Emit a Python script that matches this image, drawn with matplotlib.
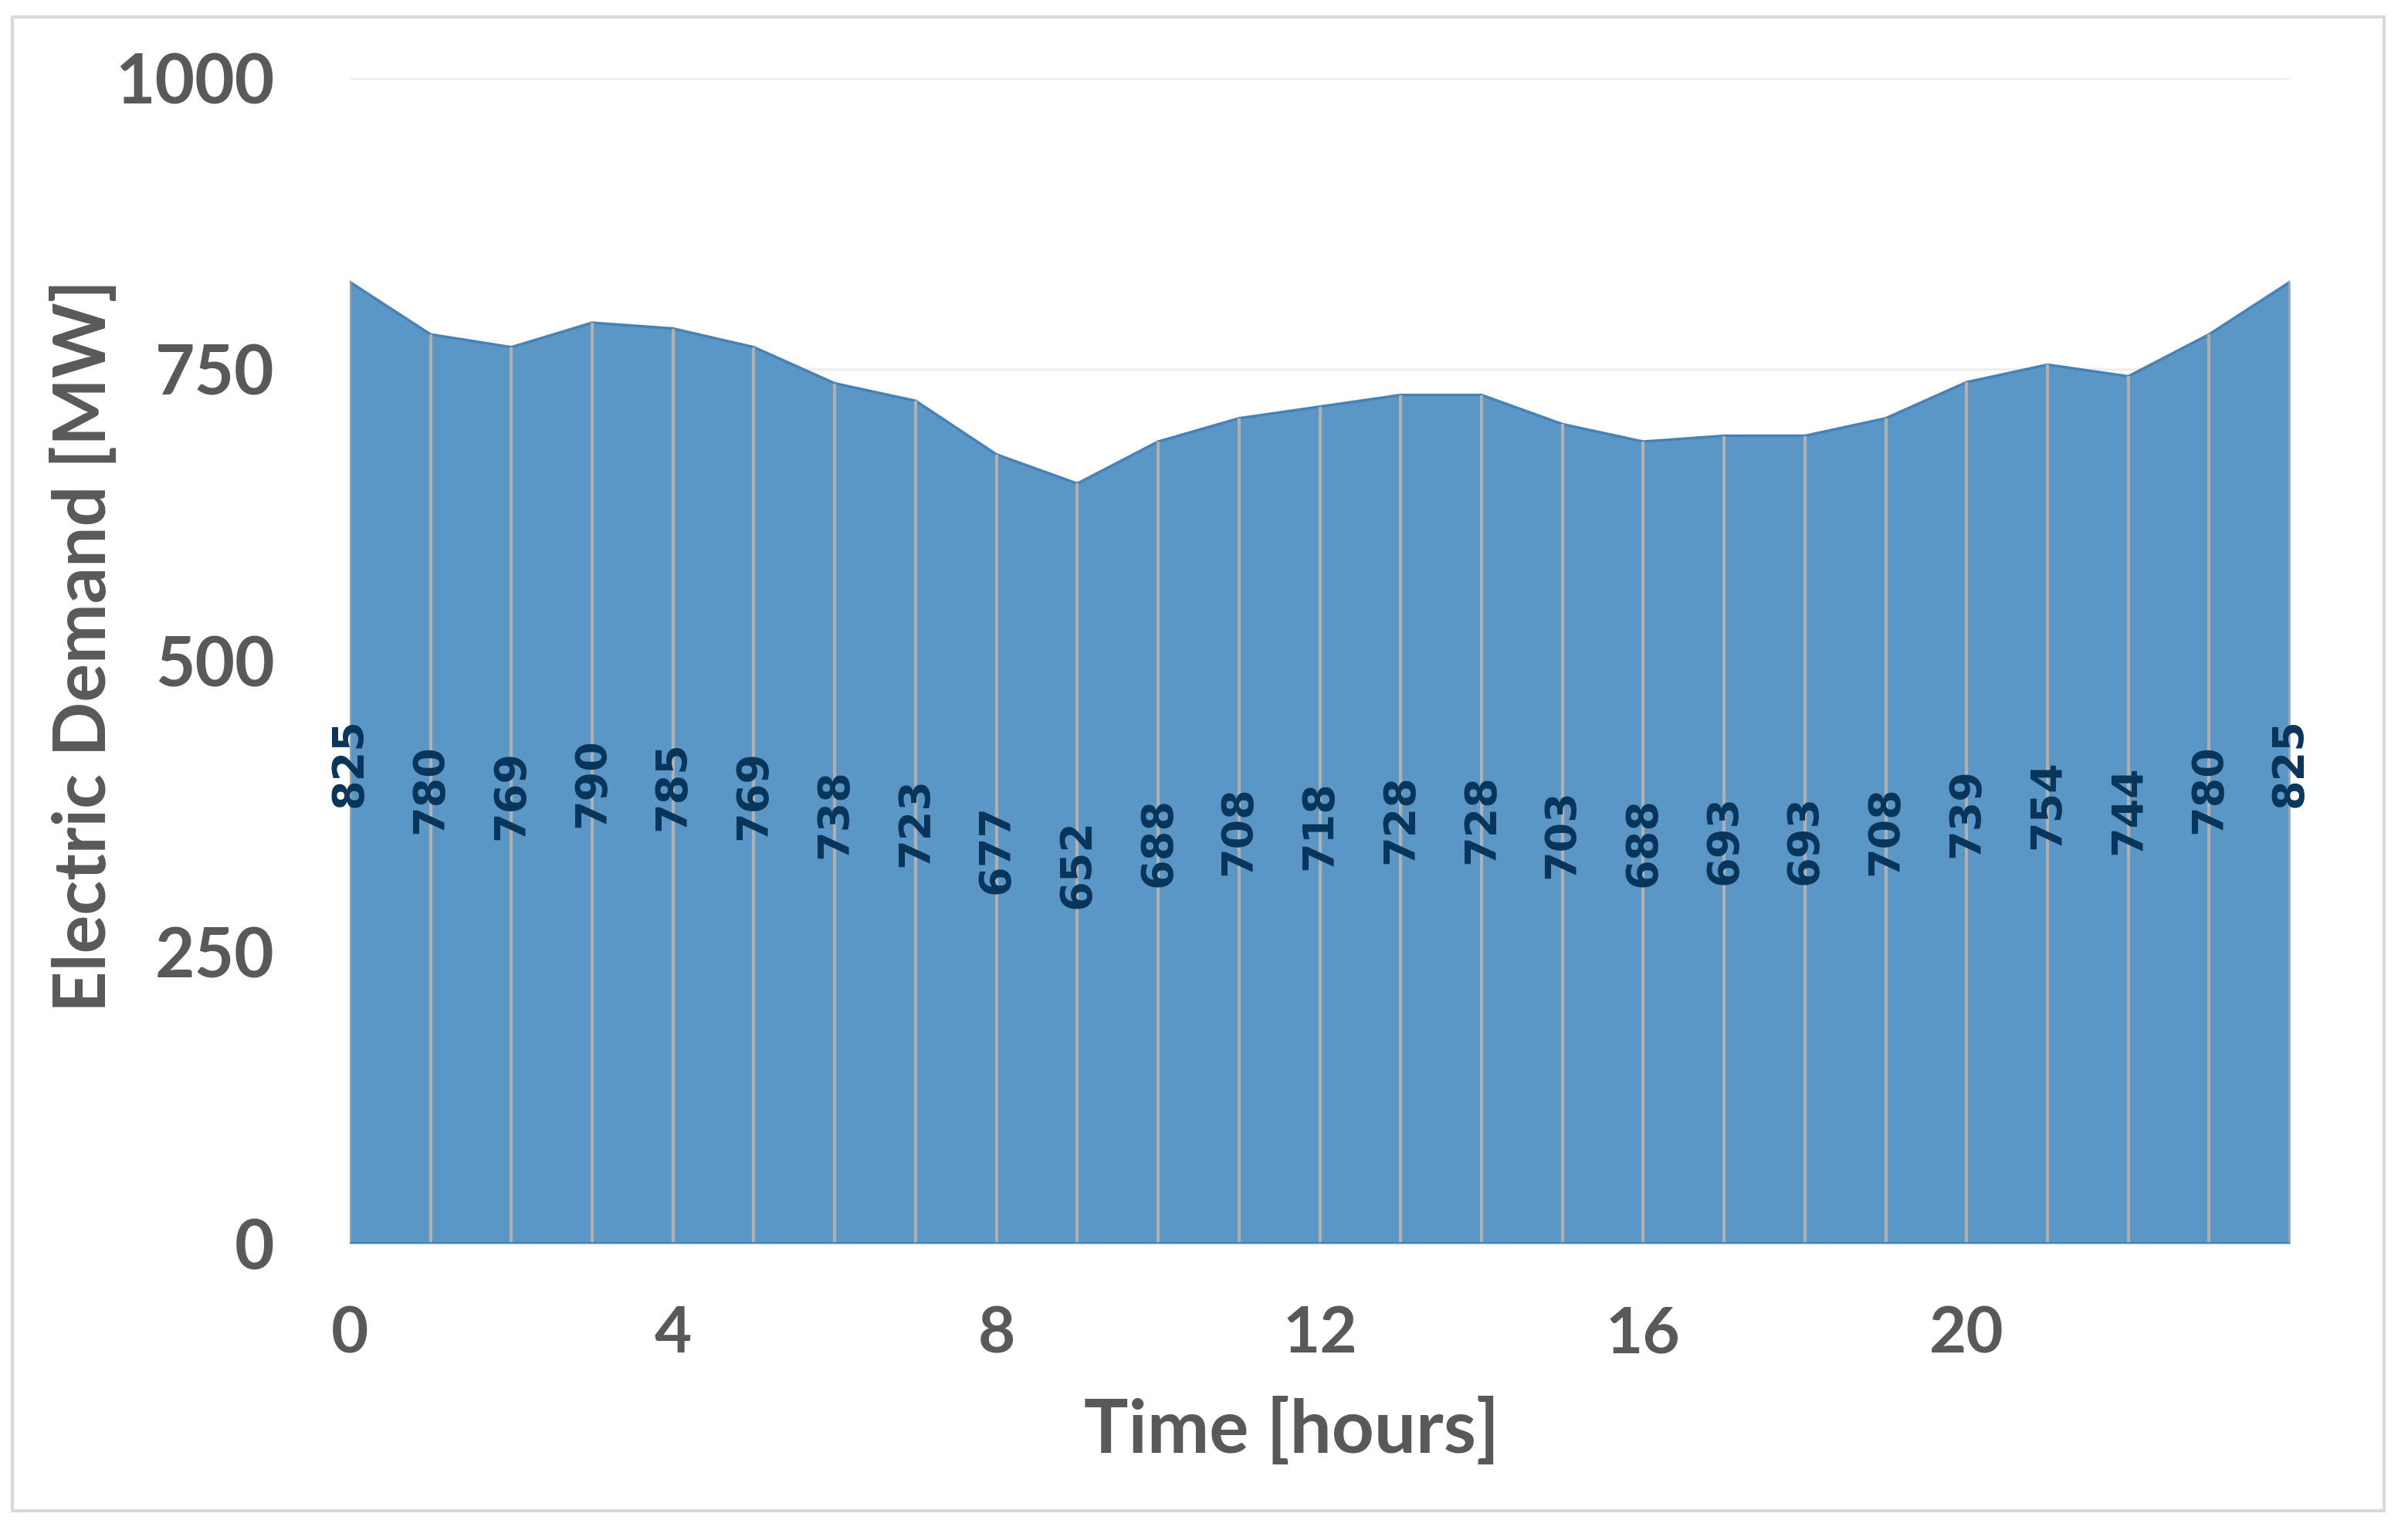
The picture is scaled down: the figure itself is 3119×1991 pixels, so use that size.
import matplotlib
matplotlib.use('Agg')
import matplotlib.pyplot as plt
from matplotlib.patches import Rectangle

# hourly electric demand [MW], hour 0..24
hours = list(range(25))
demand = [825, 780, 769, 790, 785, 769, 738, 723, 677, 652, 688, 708, 718,
          728, 728, 703, 688, 693, 693, 708, 739, 754, 744, 780, 825]
x_ticks = [0, 4, 8, 12, 16, 20]
y_ticks = [0, 250, 500, 750, 1000]

FILL = '#5a96c6'
EDGE = '#4682b8'
GREY_TXT = '#595959'
LABEL_TXT = '#083559'
FONT = ['Lato', 'DejaVu Sans']


def main():
    fig = plt.figure(figsize=(31.19, 19.91), dpi=100)
    ax = fig.add_axes([0.1452, 0.1909, 0.951 - 0.1452, 0.9493 - 0.1909])

    # light frame around whole chart
    fig.patches.append(Rectangle((16 / 3119, 1 - 1957 / 1991), (3088 - 16) / 3119,
                                 (1957 - 22) / 1991, transform=fig.transFigure,
                                 fill=False, edgecolor='#d9d9d9', lw=3))

    for y in y_ticks[1:]:
        ax.axhline(y, color='#eeeeee', lw=2.5, zorder=0)

    ax.fill_between(hours, 0, demand, color=FILL, lw=0, zorder=1)
    ax.plot(hours, demand, color=EDGE, lw=2.5, zorder=2)
    ax.vlines(hours[1:-1], 0, demand[1:-1], color='#b0b0b0', lw=3, zorder=2)
    ax.vlines([hours[0], hours[-1]], 0, [demand[0], demand[-1]], color='#9aa4ad', lw=3, zorder=2)
    ax.plot([hours[0], hours[-1]], [0, 0], color=EDGE, lw=3, zorder=2)

    for h, v in zip(hours, demand):
        ax.text(h, v / 2, str(v), rotation=90, ha='center', va='center',
                fontsize=40, fontweight='bold', color=LABEL_TXT,
                family=['DejaVu Sans'], zorder=3, clip_on=False)

    ax.set_xlim(0, 24)
    ax.set_ylim(0, 1000)
    ax.set_xticks(x_ticks)
    ax.set_yticks(y_ticks)
    for s in ax.spines.values():
        s.set_visible(False)
    ax.tick_params(axis='both', length=0, labelcolor=GREY_TXT)
    ax.tick_params(axis='y', pad=70, labelsize=64)
    ax.tick_params(axis='x', pad=58, labelsize=60)
    for lab in ax.get_xticklabels() + ax.get_yticklabels():
        lab.set_fontweight('bold')
        lab.set_family(FONT)

    fig.text(0.035, 0.58, 'Electric Demand [MW]', rotation=90, ha='center', va='center',
             fontsize=67, fontweight='bold', color=GREY_TXT, family=FONT)
    fig.text(0.5364, 0.069, 'Time [hours]', ha='center', va='center',
             fontsize=69, fontweight='bold', color=GREY_TXT, family=FONT)

    fig.savefig('out.png', dpi=100, facecolor='white')


if __name__ == '__main__':
    main()
